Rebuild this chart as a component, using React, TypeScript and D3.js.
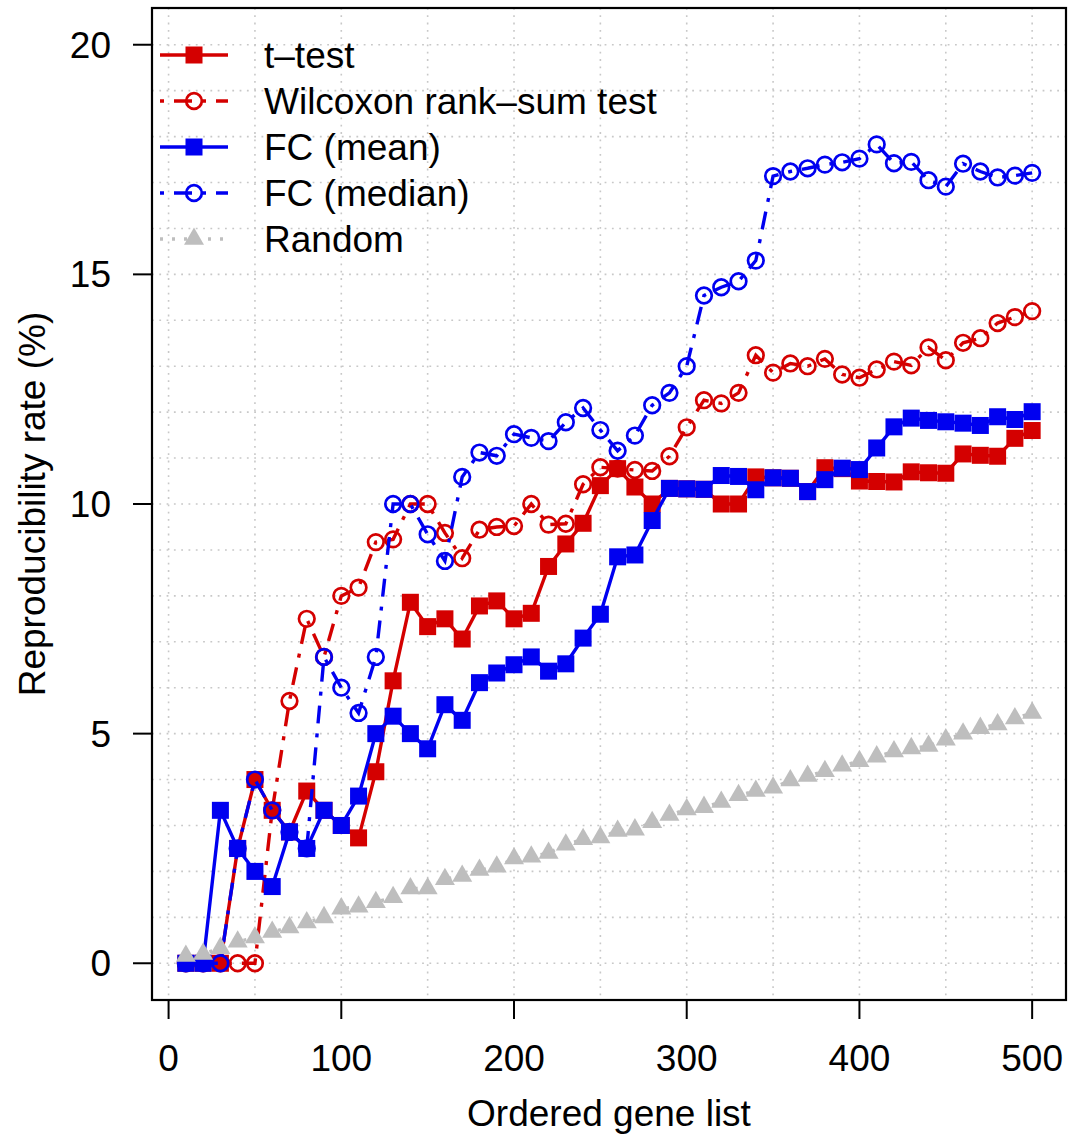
import React from "react";
import * as d3 from "d3";

const genes = [10, 20, 30, 40, 50, 60, 70, 80, 90, 100, 110, 120, 130, 140, 150, 160, 170, 180, 190, 200, 210, 220, 230, 240, 250, 260, 270, 280, 290, 300, 310, 320, 330, 340, 350, 360, 370, 380, 390, 400, 410, 420, 430, 440, 450, 460, 470, 480, 490, 500];

const tTest = [0, 0, 0, 2.5, 4.0, 3.33, 2.86, 3.75, 3.33, 3.0, 2.73, 4.17, 6.15, 7.86, 7.33, 7.5, 7.06, 7.78, 7.89, 7.5, 7.62, 8.64, 9.13, 9.58, 10.4, 10.77, 10.37, 10.0, 10.34, 10.33, 10.32, 10.0, 10.0, 10.59, 10.57, 10.56, 10.27, 10.79, 10.77, 10.5, 10.49, 10.48, 10.7, 10.68, 10.67, 11.09, 11.06, 11.04, 11.43, 11.6];

const wilcoxon = [0, 0, 0, 0, 0, 3.33, 5.71, 7.5, 6.67, 8.0, 8.18, 9.17, 9.23, 10.0, 10.0, 9.37, 8.82, 9.44, 9.5, 9.52, 10.0, 9.55, 9.57, 10.43, 10.8, 10.77, 10.74, 10.72, 11.04, 11.67, 12.26, 12.19, 12.42, 13.24, 12.86, 13.06, 13.0, 13.16, 12.82, 12.75, 12.93, 13.1, 13.02, 13.41, 13.13, 13.51, 13.61, 13.94, 14.07, 14.2];

const fcMean = [0, 0, 3.33, 2.5, 2.0, 1.67, 2.86, 2.5, 3.33, 3.0, 3.64, 5.0, 5.38, 5.0, 4.67, 5.63, 5.29, 6.11, 6.32, 6.5, 6.67, 6.36, 6.52, 7.08, 7.6, 8.85, 8.89, 9.64, 10.34, 10.33, 10.32, 10.62, 10.6, 10.31, 10.57, 10.56, 10.27, 10.53, 10.78, 10.75, 11.22, 11.68, 11.87, 11.82, 11.79, 11.76, 11.71, 11.9, 11.84, 12.01];

const fcMedian = [0, 0, 0, 2.5, 4.0, 3.33, 2.86, 2.5, 6.67, 6.0, 5.45, 6.67, 10.0, 10.0, 9.34, 8.76, 10.59, 11.12, 11.05, 11.52, 11.44, 11.37, 11.78, 12.09, 11.61, 11.16, 11.49, 12.15, 12.42, 13.0, 14.54, 14.72, 14.85, 15.3, 17.14, 17.24, 17.31, 17.39, 17.44, 17.52, 17.83, 17.42, 17.45, 17.05, 16.91, 17.41, 17.24, 17.11, 17.15, 17.21];

const randomRate = [0.16, 0.2, 0.33, 0.47, 0.56, 0.68, 0.78, 0.89, 1.0, 1.19, 1.23, 1.33, 1.44, 1.63, 1.63, 1.83, 1.9, 2.03, 2.1, 2.28, 2.32, 2.4, 2.58, 2.7, 2.74, 2.88, 2.91, 3.07, 3.23, 3.35, 3.4, 3.51, 3.66, 3.75, 3.82, 3.98, 4.08, 4.18, 4.3, 4.4, 4.5, 4.61, 4.68, 4.73, 4.87, 5.0, 5.12, 5.2, 5.33, 5.45];

const xTicks = [0, 100, 200, 300, 400, 500];
const yTicks = [0, 5, 10, 15, 20];
const xGrid = [0, 50, 100, 150, 200, 250, 300, 350, 400, 450, 500];
const yGrid = [0, 1, 2, 3, 4, 5, 6, 7, 8, 9, 10, 11, 12, 13, 14, 15, 16, 17, 18, 19, 20];

const legendLabels = ["t\u2013test", "Wilcoxon rank\u2013sum test", "FC (mean)", "FC (median)", "Random"];

const RED = "#d40000";
const BLUE = "#0000f0";
const GREY = "#bebebe";
const FONT = "'Liberation Sans', Arial, Helvetica, sans-serif";
const DOTDASH = "4,10,18,10";

type Series = {
  name: string;
  values: number[];
  color: string;
  dash: string | null;
  marker: "square" | "circle" | "triangle";
};

const series: Series[] = [
  { name: legendLabels[0], values: tTest, color: RED, dash: null, marker: "square" },
  { name: legendLabels[1], values: wilcoxon, color: RED, dash: DOTDASH, marker: "circle" },
  { name: legendLabels[2], values: fcMean, color: BLUE, dash: null, marker: "square" },
  { name: legendLabels[3], values: fcMedian, color: BLUE, dash: DOTDASH, marker: "circle" },
  { name: legendLabels[4], values: randomRate, color: GREY, dash: "3,9", marker: "triangle" },
];

function Marker({ type, cx, cy, color }: { type: string; cx: number; cy: number; color: string }) {
  if (type === "square") {
    return <rect x={cx - 8.5} y={cy - 8.5} width={17} height={17} fill={color} />;
  }
  if (type === "circle") {
    return <circle cx={cx} cy={cy} r={7.8} fill="none" stroke={color} strokeWidth={2.7} />;
  }
  const pts = [
    [cx, cy - 11.5],
    [cx - 10, cy + 5.8],
    [cx + 10, cy + 5.8],
  ]
    .map((p) => p.join(","))
    .join(" ");
  return <polygon points={pts} fill={color} />;
}

export default function App() {
  const left = 152,
    right = 1066,
    top = 8,
    bottom = 1000;
  const x = d3.scaleLinear().domain([-9.6, 519.6]).range([left, right]);
  const y = d3.scaleLinear().domain([-0.8, 20.8]).range([bottom, top]);
  const line = d3
    .line<number>()
    .x((_, i) => x(genes[i]))
    .y((d) => y(d));

  const legendY = [55, 101, 147, 193, 239];

  return (
    <svg
      width={1076}
      height={1137}
      style={{ position: "absolute", left: 0, top: 0, background: "#fff" }}
      fontFamily={FONT}
    >
      <rect x={0} y={0} width={1076} height={1137} fill="#fff" />
      {/* grid */}
      <g stroke="#c8c8c8" strokeWidth={1.6} strokeDasharray="1.8,5.5">
        {xGrid.map((g) => (
          <line key={"gx" + g} x1={x(g)} x2={x(g)} y1={top} y2={bottom} />
        ))}
        {yGrid.map((g) => (
          <line key={"gy" + g} x1={left} x2={right} y1={y(g)} y2={y(g)} />
        ))}
      </g>
      {/* series */}
      {series.map((s) => (
        <g key={s.name}>
          <path
            d={line(s.values) || ""}
            fill="none"
            stroke={s.color}
            strokeWidth={3.4}
            strokeDasharray={s.dash || undefined}
          />
          {s.values.map((v, i) => (
            <Marker key={i} type={s.marker} cx={x(genes[i])} cy={y(v)} color={s.color} />
          ))}
        </g>
      ))}
      {/* legend */}
      {series.map((s, i) => (
        <g key={"leg" + i}>
          <line
            x1={160}
            x2={228}
            y1={legendY[i]}
            y2={legendY[i]}
            stroke={s.color}
            strokeWidth={3.4}
            strokeDasharray={s.dash || undefined}
          />
          <Marker type={s.marker} cx={194} cy={legendY[i]} color={s.color} />
          <text x={264} y={legendY[i] + 13} fontSize={37} fill="#000">
            {s.name}
          </text>
        </g>
      ))}
      {/* box */}
      <rect x={left} y={top} width={right - left} height={bottom - top} fill="none" stroke="#000" strokeWidth={2.2} />
      {/* x axis */}
      {xTicks.map((t) => (
        <g key={"xt" + t}>
          <line x1={x(t)} x2={x(t)} y1={bottom} y2={bottom + 19} stroke="#000" strokeWidth={2} />
          <text x={x(t)} y={1071} textAnchor="middle" fontSize={37} fill="#000">
            {t}
          </text>
        </g>
      ))}
      {/* y axis */}
      {yTicks.map((t) => (
        <g key={"yt" + t}>
          <line x1={left - 19} x2={left} y1={y(t)} y2={y(t)} stroke="#000" strokeWidth={2} />
          <text x={111} y={y(t) + 13} textAnchor="end" fontSize={37} fill="#000">
            {t}
          </text>
        </g>
      ))}
      <text x={609} y={1126} textAnchor="middle" fontSize={37} fill="#000">
        Ordered gene list
      </text>
      <text
        transform={`translate(45, ${(top + bottom) / 2}) rotate(-90)`}
        textAnchor="middle"
        fontSize={37}
        fill="#000"
      >
        Reproducibility rate (%)
      </text>
    </svg>
  );
}
